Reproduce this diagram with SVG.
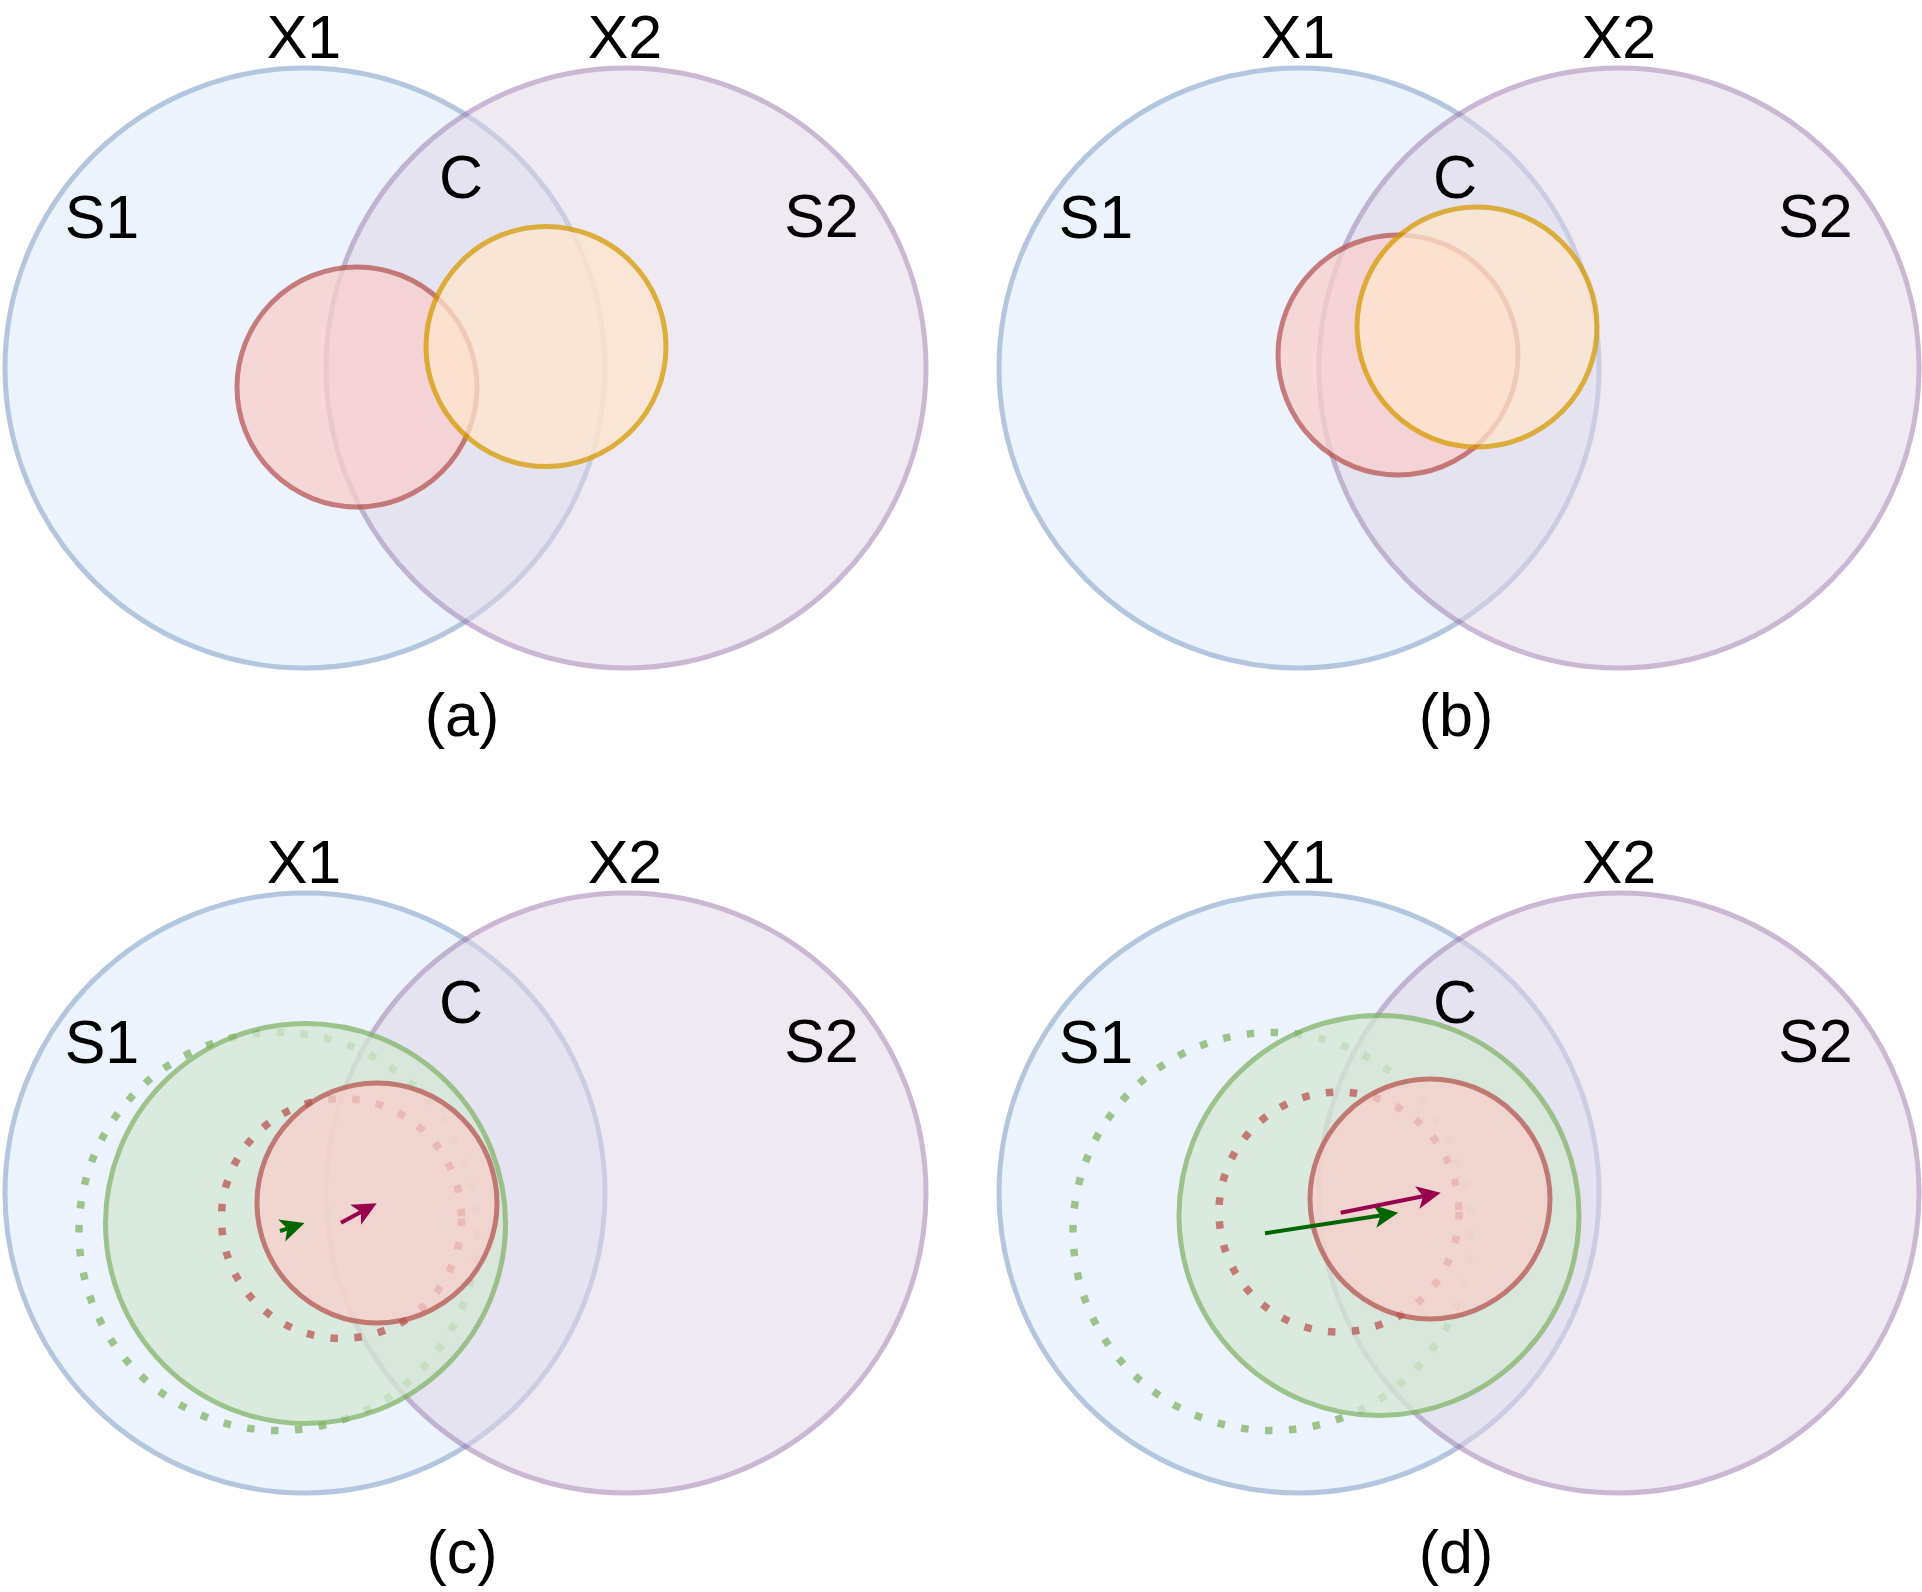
<svg xmlns="http://www.w3.org/2000/svg" width="1922" height="1592" viewBox="0 0 1922 1592">
<style>
circle{stroke-width:5}
.s1{fill:#dae8fc;stroke:#6c8ebf;opacity:.5}
.s2{fill:#e1d5e7;stroke:#9673a6;opacity:.5}
.r{fill:#f8cecc;stroke:#b85450;opacity:.75}
.y{fill:#ffe6cc;stroke:#d79b00;opacity:.75}
.g{fill:#d5e8d4;stroke:#82b366;opacity:.75}
.gd{fill:none;stroke:#82b366;opacity:.75;stroke-width:7.5;stroke-dasharray:7.5 16.5}
.rd{fill:none;stroke:#b85450;opacity:.75;stroke-width:7.5;stroke-dasharray:7.5 16.5}
text{font-family:"Liberation Sans",Arial,Helvetica,sans-serif;font-size:61px;text-anchor:middle;fill:#000}
.ag{stroke:#006600;stroke-width:4;fill:none}
.ar{stroke:#99004d;stroke-width:4;fill:none}
</style>
<defs>
<marker id="mg" viewBox="0 0 24 24" markerWidth="24" markerHeight="24" markerUnits="userSpaceOnUse" refX="6" refY="12" orient="auto"><path d="M0,0.5 L24,12 L0,23.5 L6,12 Z" fill="#006600"/></marker>
<marker id="mr" viewBox="0 0 24 24" markerWidth="24" markerHeight="24" markerUnits="userSpaceOnUse" refX="6" refY="12" orient="auto"><path d="M0,0.5 L24,12 L0,23.5 L6,12 Z" fill="#99004d"/></marker>
</defs>

<g id="panel-a">
<g id="a-S1"><circle class="s1" cx="305" cy="368" r="300"/></g>
<g id="a-S2"><circle class="s2" cx="626" cy="368" r="300"/></g>
<g id="a-red"><circle class="r" cx="357" cy="387" r="120"/></g>
<g id="a-yellow"><circle class="y" cx="546" cy="346.5" r="120"/></g>
<text x="304" y="58">X1</text>
<text x="625" y="58">X2</text>
<text x="102" y="238">S1</text>
<text x="461" y="198">C</text>
<text x="821.5" y="237">S2</text>
<text x="462" y="736">(a)</text>
</g>

<g id="panel-b">
<g id="b-S1"><circle class="s1" cx="1299" cy="368" r="300"/></g>
<g id="b-S2"><circle class="s2" cx="1619" cy="368" r="300"/></g>
<g id="b-red"><circle class="r" cx="1398" cy="355" r="120"/></g>
<g id="b-yellow"><circle class="y" cx="1477" cy="327" r="120"/></g>
<text x="1298" y="58">X1</text>
<text x="1619" y="58">X2</text>
<text x="1096" y="238">S1</text>
<text x="1455" y="198">C</text>
<text x="1815.5" y="237">S2</text>
<text x="1456" y="736">(b)</text>
</g>

<g id="panel-c">
<g id="c-S1"><circle class="s1" cx="305" cy="1193" r="300"/></g>
<g id="c-S2"><circle class="s2" cx="626" cy="1193" r="300"/></g>
<g id="c-green-old"><circle class="gd" cx="278" cy="1231.5" r="199"/></g>
<g id="c-green"><circle class="g" cx="305.5" cy="1223.5" r="200"/></g>
<g id="c-red-old"><circle class="rd" cx="341.5" cy="1218.5" r="120"/></g>
<g id="c-red"><circle class="r" cx="377" cy="1203" r="120"/></g>
<text x="304" y="883">X1</text>
<text x="625" y="883">X2</text>
<text x="102" y="1063">S1</text>
<text x="461" y="1023">C</text>
<text x="821.5" y="1062">S2</text>
<text x="462" y="1573">(c)</text>
</g>

<g id="panel-d">
<g id="d-S1"><circle class="s1" cx="1299" cy="1193" r="300"/></g>
<g id="d-S2"><circle class="s2" cx="1619" cy="1193" r="300"/></g>
<g id="d-green-old"><circle class="gd" cx="1272" cy="1231.5" r="199"/></g>
<g id="d-green"><circle class="g" cx="1379" cy="1215.5" r="200"/></g>
<g id="d-red-old"><circle class="rd" cx="1339" cy="1212" r="120"/></g>
<g id="d-red"><circle class="r" cx="1430" cy="1199" r="120"/></g>
<text x="1298" y="883">X1</text>
<text x="1619" y="883">X2</text>
<text x="1096" y="1063">S1</text>
<text x="1455" y="1023">C</text>
<text x="1815.5" y="1062">S2</text>
<text x="1456" y="1573">(d)</text>
</g>

<g id="connectors">
<path class="ag" d="M280,1231 L287.4,1228.6" marker-end="url(#mg)"/>
<path class="ar" d="M341,1222.7 L360.9,1211.9" marker-end="url(#mr)"/>
<path class="ag" d="M1265,1233.3 L1380.5,1215.45" marker-end="url(#mg)"/>
<path class="ar" d="M1340.7,1212.7 L1423.05,1196.23" marker-end="url(#mr)"/>
</g>
</svg>
